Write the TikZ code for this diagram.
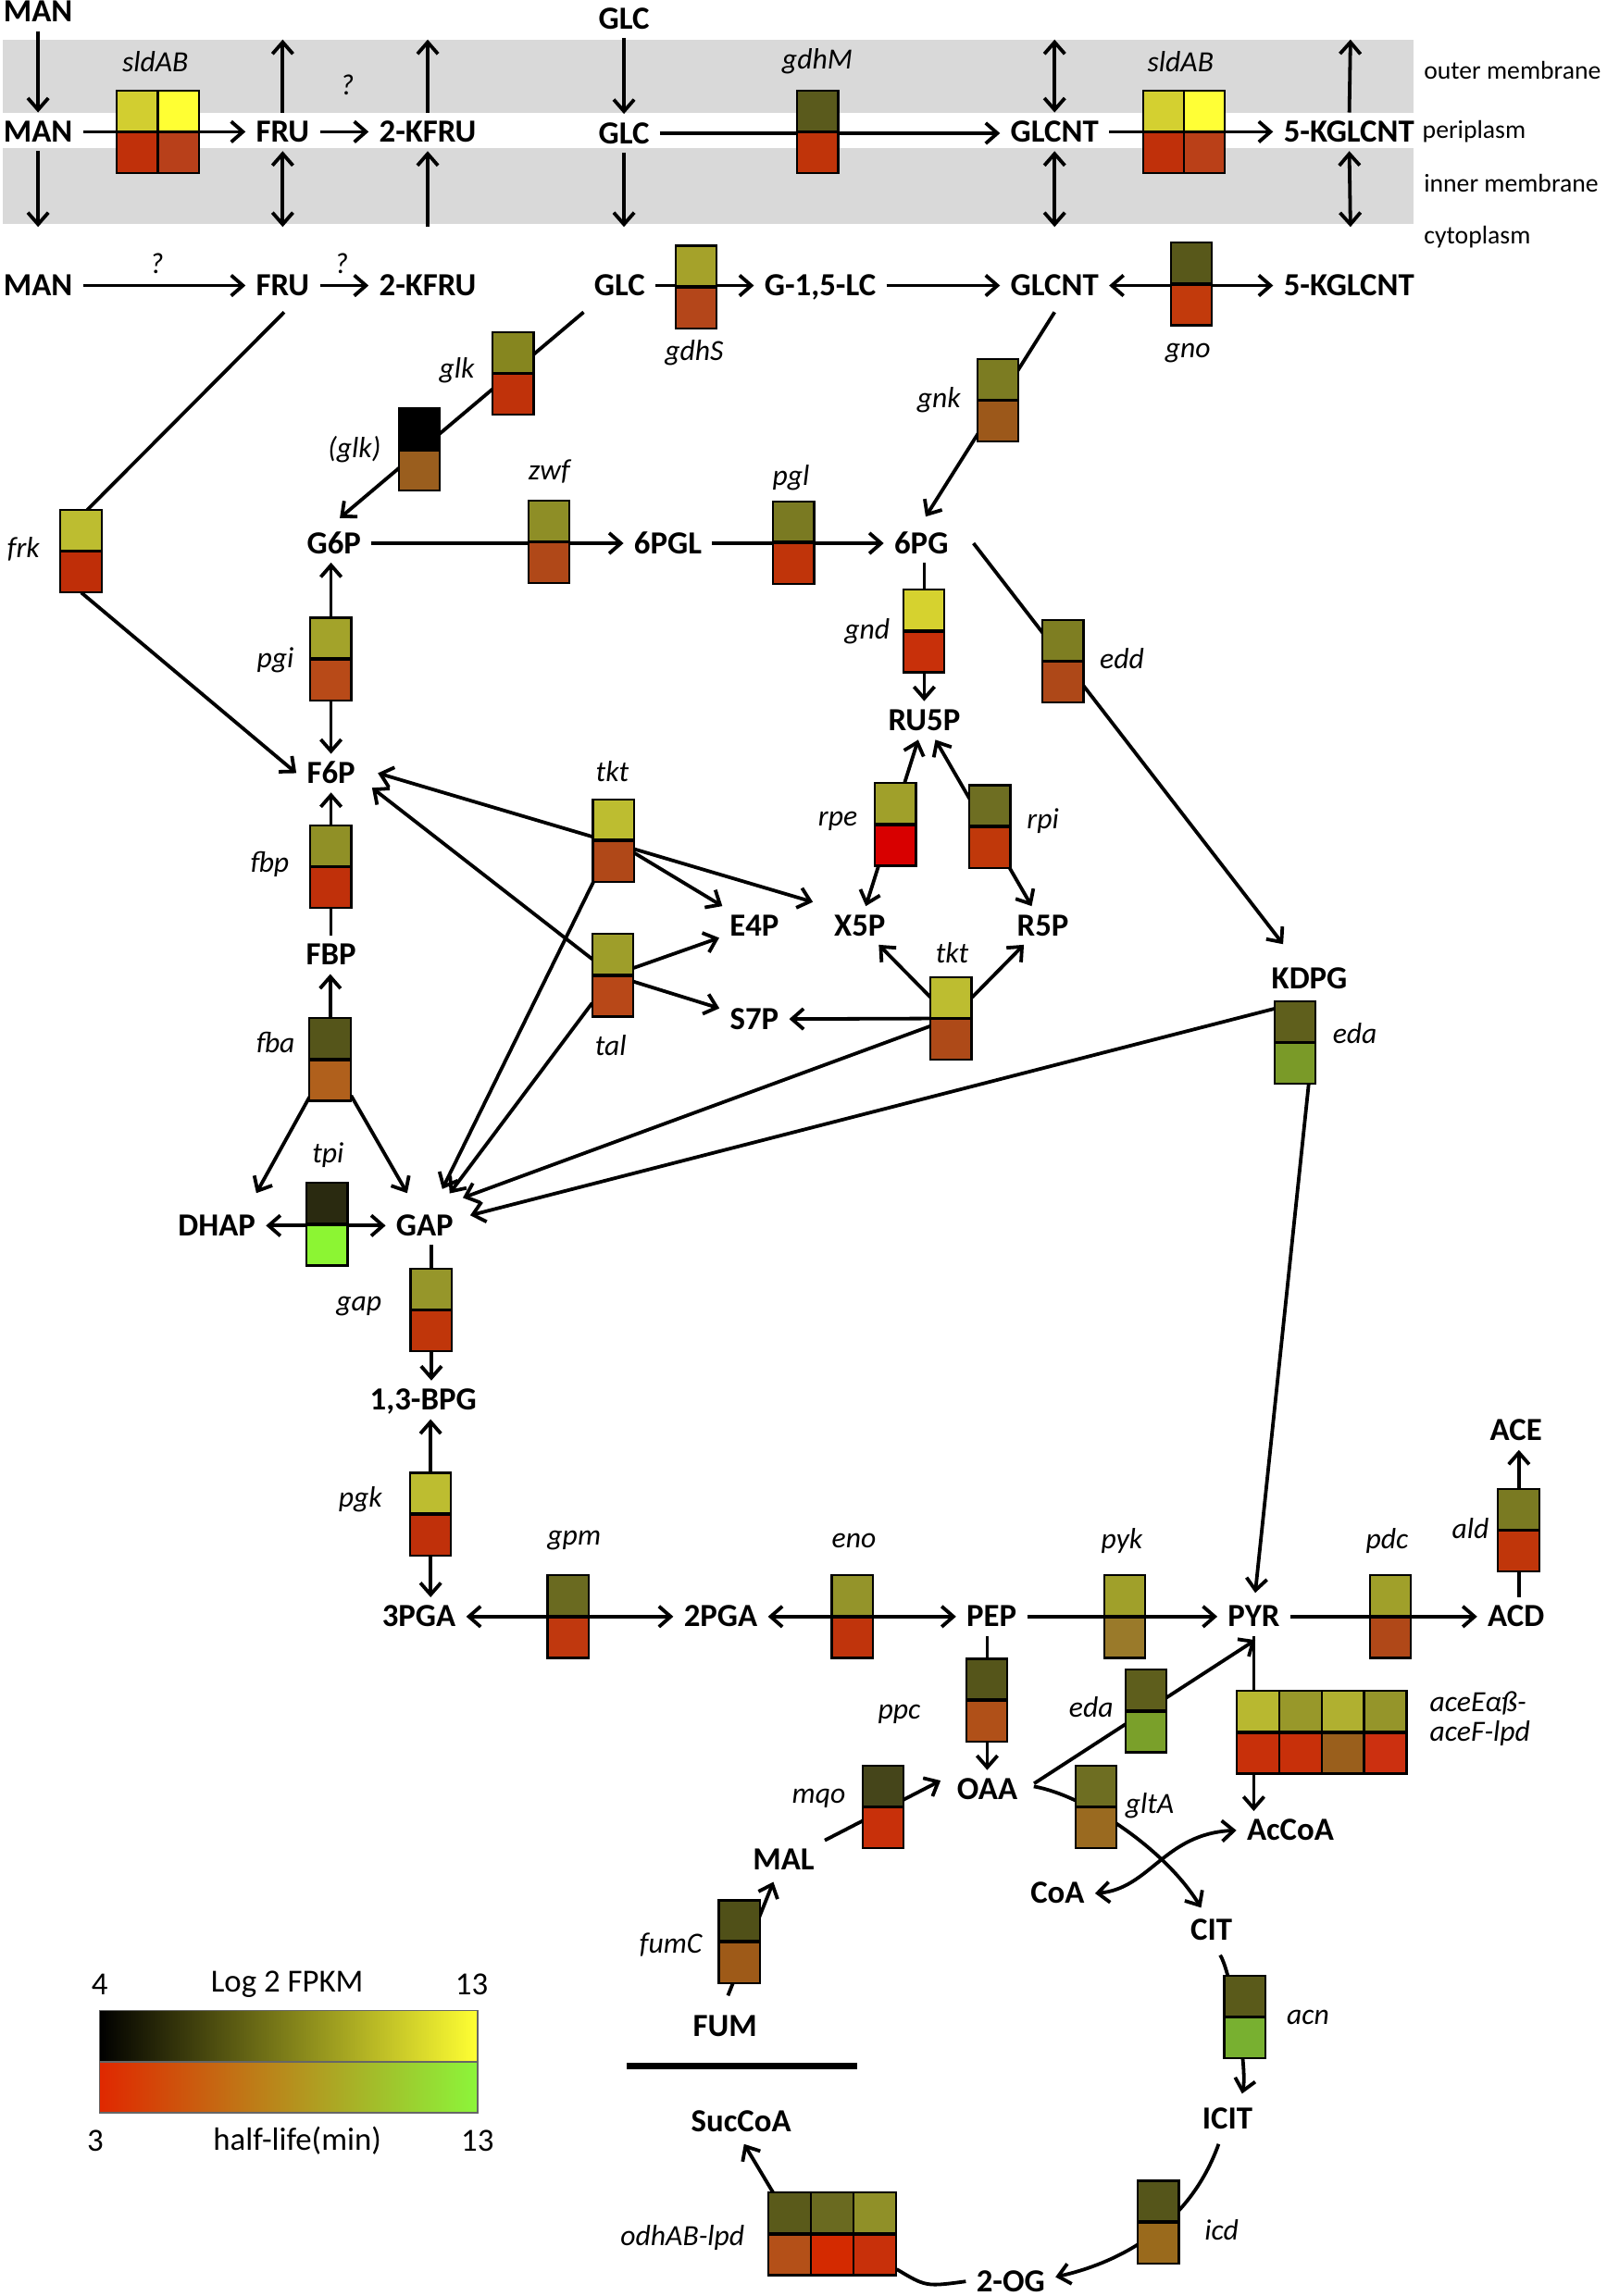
\documentclass[tikz,border=0pt]{standalone}
\usepackage{fontspec}
\setmainfont{Carlito}
\usetikzlibrary{arrows.meta,calc}
\pgfdeclarelayer{bg}
\pgfsetlayers{bg,main}
\newcommand{\hx}[2]{\definecolor{#1}{HTML}{#2}}
\hx{membr}{D9D9D9}
\hx{sAaT}{D2CE30}\hx{sAbT}{FFFF33}\hx{sAaB}{C0300A}\hx{sAbB}{B8401A}
\hx{gdhMT}{5A5A1C}\hx{gdhMB}{C0340A}
\hx{sBaT}{D4D030}\hx{sBbT}{FFFF36}\hx{sBaB}{C0300A}\hx{sBbB}{BA4018}
\hx{gdhST}{A5A22A}\hx{gdhSB}{B4461A}
\hx{gnoT}{58581A}\hx{gnoB}{C23A0C}
\hx{glkT}{86861F}\hx{glkB}{C0320A}
\hx{glkbT}{000000}\hx{glkbB}{9A5E1E}
\hx{gnkT}{7C7C22}\hx{gnkB}{9C581A}
\hx{frkT}{BDBD30}\hx{frkB}{BF2E08}
\hx{zwfT}{8E8E26}\hx{zwfB}{B04818}
\hx{pglT}{7A7A22}\hx{pglB}{C0340A}
\hx{gndT}{D6D22F}\hx{gndB}{C8300A}
\hx{eddT}{7E7E22}\hx{eddB}{AE4818}
\hx{pgiT}{A3A32A}\hx{pgiB}{B84A18}
\hx{fbpT}{909026}\hx{fbpB}{C0300A}
\hx{tktAT}{BDBD30}\hx{tktAB}{B04818}
\hx{talT}{9E9E2A}\hx{talB}{B84818}
\hx{rpeT}{A0A02A}\hx{rpeB}{D80000}
\hx{rpiT}{6E6E22}\hx{rpiB}{C0380A}
\hx{tktBT}{BDBD30}\hx{tktBB}{AE4A18}
\hx{fbaT}{55551A}\hx{fbaB}{B0601C}
\hx{tpiT}{2A2A10}\hx{tpiB}{8CF533}
\hx{gapT}{96962A}\hx{gapB}{C0360A}
\hx{edaAT}{5F5F1C}\hx{edaAB}{7A9A28}
\hx{pgkT}{BDBD30}\hx{pgkB}{C0300A}
\hx{gpmT}{6A6A20}\hx{gpmB}{C0380E}
\hx{enoT}{94942A}\hx{enoB}{C0340C}
\hx{pykT}{A0A02A}\hx{pykB}{9A7A2A}
\hx{pdcT}{A0A02A}\hx{pdcB}{B04818}
\hx{aldT}{7A7A22}\hx{aldB}{C0360A}
\hx{ppcT}{55551A}\hx{ppcB}{B05018}
\hx{edaBT}{5E5E1C}\hx{edaBB}{7AA02A}
\hx{aceaT}{B8B830}\hx{acebT}{98982A}\hx{acecT}{B0B030}\hx{acedT}{95952A}
\hx{aceaB}{C8300A}\hx{acebB}{C8300A}\hx{acecB}{9A5F1C}\hx{acedB}{CC3010}
\hx{gltAT}{6E6E22}\hx{gltAB}{9A6A20}
\hx{mqoT}{45451A}\hx{mqoB}{C8300A}
\hx{fumCT}{505018}\hx{fumCB}{9E5A18}
\hx{acnT}{5A5A1A}\hx{acnB}{78B030}
\hx{icdT}{55551A}\hx{icdB}{9A6A1C}
\hx{odhaT}{5A5A1A}\hx{odhbT}{6A6A20}\hx{odhcT}{909028}
\hx{odhaB}{B45018}\hx{odhbB}{D42A00}\hx{odhcB}{C8300A}
\hx{lgY}{FFFF33}\hx{lgR}{E02800}\hx{lgG}{8CF53A}
\tikzset{
  met/.style={font=\fontsize{22}{24}\selectfont\bfseries, inner xsep=7pt, inner ysep=6pt, text height=14pt, text depth=0pt},
  gl/.style={font=\fontsize{20}{22}\selectfont\itshape, inner sep=1pt},
  memlbl/.style={font=\fontsize{17.5}{19}\selectfont, anchor=west, inner sep=0pt},
  lgd/.style={font=\fontsize{22}{24}\selectfont, inner sep=0pt},
  genebox/.style={rectangle, minimum height=56pt, inner sep=0pt, draw=none},
  boxedge/.style={draw=black, line width=1.4pt},
  midline/.style={draw=black, line width=2.2pt},
  ln/.style={draw=black, line width=2.4pt},
  ar/.style={ln, -{Straight Barb[length=8pt,width=14pt]}},
  dar/.style={ln, {Straight Barb[length=8pt,width=14pt]}-{Straight Barb[length=8pt,width=14pt]}}
}
\newcommand{\gM}[5]{%
  \node[genebox, minimum width=#3*#4pt] (#1) at #2 {};
  \foreach \tc/\bc [count=\i from 0] in {#5}{%
    \fill[fill=\tc] ($(#1.north west)+(\i*#4,0)$) rectangle ($(#1.west)+(\i*#4+#4,0)$);
    \fill[fill=\bc] ($(#1.west)+(\i*#4,0)$) rectangle ($(#1.south west)+(\i*#4+#4,0)$);
    \draw[boxedge] ($(#1.north west)+(\i*#4,0)$) rectangle ($(#1.south west)+(\i*#4+#4,0)$);
  }%
  \draw[midline] (#1.west) -- (#1.east);
}
\begin{document}
\begin{tikzpicture}[x=1pt,y=-1pt]
\useasboundingbox (0,0) rectangle (1097,1568);
\begin{pgfonlayer}{bg}
\fill[membr] (2,27) rectangle (965,77);
\fill[membr] (2,101) rectangle (965,153);
\end{pgfonlayer}
% membrane labels
\node[memlbl] (Louter) at (972,48) {outer membrane};
\node[memlbl] (Lperi) at (971,90) {periplasm};
\node[memlbl] (Linner) at (972,125) {inner membrane};
\node[memlbl] (Lcyto) at (972,162) {cytoplasm};
% metabolites
\node[met] (MANo) at (26,8) {MAN};
\node[met] (GLCo) at (426,13) {GLC};
\node[met] (MANp) at (26,90) {MAN};
\node[met] (FRUp) at (193,90) {FRU};
\node[met] (KFRUp) at (292,90) {2-KFRU};
\node[met] (GLCp) at (426,91) {GLC};
\node[met] (GLCNTp) at (720,90) {GLCNT};
\node[met] (KGLCNTp) at (921,90) {5-KGLCNT};
\node[met] (MANc) at (26,195) {MAN};
\node[met] (FRUc) at (193,195) {FRU};
\node[met] (KFRUc) at (292,195) {2-KFRU};
\node[met] (GLCc) at (423,195) {GLC};
\node[met] (GLC15) at (560,195) {G-1,5-LC};
\node[met] (GLCNTc) at (720,195) {GLCNT};
\node[met] (KGLCNTc) at (921,195) {5-KGLCNT};
\node[met] (G6P) at (228,371) {G6P};
\node[met] (PGL6) at (456,371) {6PGL};
\node[met] (PG6) at (629,371) {6PG};
\node[met] (RU5P) at (631,492) {RU5P};
\node[met] (F6P) at (226,528) {F6P};
\node[met] (FBP) at (226,652) {FBP};
\node[met] (E4P) at (515,632) {E4P};
\node[met] (X5P) at (587,632) {X5P};
\node[met] (R5P) at (712,632) {R5P};
\node[met] (S7P) at (515,696) {S7P};
\node[met] (KDPG) at (894,668) {KDPG};
\node[met] (DHAP) at (148,837) {DHAP};
\node[met] (GAP) at (290,837) {GAP};
\node[met] (BPG) at (289,956) {1,3-BPG};
\node[met] (PGA3) at (286,1104) {3PGA};
\node[met] (PGA2) at (492,1104) {2PGA};
\node[met] (PEP) at (677,1104) {PEP};
\node[met] (PYR) at (856,1104) {PYR};
\node[met] (ACD) at (1035,1104) {ACD};
\node[met] (ACE) at (1035,977) {ACE};
\node[met] (OAA) at (674,1222) {OAA};
\node[met] (AcCoA) at (881,1250) {AcCoA};
\node[met] (CoA) at (722,1293) {CoA};
\node[met] (CIT) at (827,1318) {CIT};
\node[met] (MAL) at (535,1270) {MAL};
\node[met] (FUM) at (495,1384) {FUM};
\node[met] (SucCoA) at (506,1449) {SucCoA};
\node[met] (ICIT) at (838,1447) {ICIT};
\node[met] (OG2) at (690,1558) {2-OG};
% free ends
\coordinate (MANd) at (26,155);
\coordinate (FRUu) at (193,27);
\coordinate (FRUd) at (193,155);
\coordinate (KFRUu) at (292,27);
\coordinate (KFRUd) at (292,155);
\coordinate (GLCd) at (426,155);
\coordinate (GLCNTu) at (720,27);
\coordinate (GLCNTd) at (720,155);
\coordinate (KGu) at (922,27);
\coordinate (KGd) at (922,155);
% gene boxes
\gM{sldA}{(108,90)}{2}{28}{sAaT/sAaB,sAbT/sAbB}
\gM{gdhM}{(558.5,90)}{1}{28}{gdhMT/gdhMB}
\gM{sldB}{(808.5,90)}{2}{28}{sBaT/sBaB,sBbT/sBbB}
\gM{gdhS}{(475.5,196)}{1}{28}{gdhST/gdhSB}
\gM{gno}{(813.5,194)}{1}{28}{gnoT/gnoB}
\gM{glk}{(350.5,255)}{1}{28}{glkT/glkB}
\gM{glkb}{(286.5,307)}{1}{28}{glkbT/glkbB}
\gM{gnk}{(681.5,273.5)}{1}{28}{gnkT/gnkB}
\gM{frk}{(55.5,376.5)}{1}{28}{frkT/frkB}
\gM{zwf}{(375,370)}{1}{28}{zwfT/zwfB}
\gM{pgl}{(542,370.5)}{1}{28}{pglT/pglB}
\gM{gnd}{(631,431)}{1}{28}{gndT/gndB}
\gM{edd}{(726,451.5)}{1}{28}{eddT/eddB}
\gM{pgi}{(226,450)}{1}{28}{pgiT/pgiB}
\gM{fbp}{(226,592)}{1}{28}{fbpT/fbpB}
\gM{tktA}{(419,574)}{1}{28}{tktAT/tktAB}
\gM{tal}{(418.5,666)}{1}{28}{talT/talB}
\gM{rpe}{(611.5,563)}{1}{28}{rpeT/rpeB}
\gM{rpi}{(676,564.5)}{1}{28}{rpiT/rpiB}
\gM{tktB}{(649.5,695.5)}{1}{28}{tktBT/tktBB}
\gM{fba}{(225.5,723.5)}{1}{28}{fbaT/fbaB}
\gM{tpi}{(223.5,836)}{1}{28}{tpiT/tpiB}
\gM{gap}{(294.5,894.5)}{1}{28}{gapT/gapB}
\gM{edaA}{(884.5,712)}{1}{28}{edaAT/edaAB}
\gM{pgk}{(294,1034)}{1}{28}{pgkT/pgkB}
\gM{gpm}{(388,1104)}{1}{28}{gpmT/gpmB}
\gM{eno}{(582,1104)}{1}{28}{enoT/enoB}
\gM{pyk}{(768,1104)}{1}{28}{pykT/pykB}
\gM{pdc}{(949.5,1104)}{1}{28}{pdcT/pdcB}
\gM{ald}{(1037,1045)}{1}{28}{aldT/aldB}
\gM{ppc}{(674,1161)}{1}{28}{ppcT/ppcB}
\gM{edaB}{(782.5,1168.5)}{1}{28}{edaBT/edaBB}
\gM{ace}{(902.5,1183)}{4}{29}{aceaT/aceaB,acebT/acebB,acecT/acecB,acedT/acedB}
\gM{gltA}{(748.5,1234)}{1}{28}{gltAT/gltAB}
\gM{mqo}{(603,1234)}{1}{28}{mqoT/mqoB}
\gM{fumC}{(505,1326)}{1}{28}{fumCT/fumCB}
\gM{acn}{(850,1377.5)}{1}{28}{acnT/acnB}
\gM{icd}{(791,1517.5)}{1}{28}{icdT/icdB}
\gM{odh}{(568.5,1525.5)}{3}{29}{odhaT/odhaB,odhbT/odhbB,odhcT/odhcB}
% gene labels
\node[gl] (Lsld1) at (106,42) {sldAB};
\node[gl] (LgdhM) at (558,42) {gdhM};
\node[gl] (Lsld2) at (806,42) {sldAB};
\node[gl] (Lq1) at (237,58) {?};
\node[gl] (Lq2) at (107,180) {?};
\node[gl] (Lq3) at (233,180) {?};
\node[gl] (LgdhS) at (474,241) {gdhS};
\node[gl] (Lgno) at (811,241) {gno};
\node[gl] (Lglk) at (312,253) {glk};
\node[gl] (Lglkb) at (242,307) {(glk)};
\node[gl] (Lgnk) at (641,273) {gnk};
\node[gl] (Lfrk) at (16,375) {frk};
\node[gl] (Lzwf) at (375,322) {zwf};
\node[gl] (Lpgl) at (540,326) {pgl};
\node[gl] (Lgnd) at (592,431) {gnd};
\node[gl] (Ledd) at (766,450) {edd};
\node[gl] (Lpgi) at (188,451) {pgi};
\node[gl] (Lfbp) at (184,590) {fbp};
\node[gl] (LtktA) at (418,527) {tkt};
\node[gl] (Ltal) at (417,714) {tal};
\node[gl] (Lrpe) at (572,561) {rpe};
\node[gl] (Lrpi) at (712,561) {rpi};
\node[gl] (LtktB) at (650,651) {tkt};
\node[gl] (Lfba) at (188,712) {fba};
\node[gl] (Ltpi) at (224,789) {tpi};
\node[gl] (Lgap) at (245,892) {gap};
\node[gl] (LedaA) at (925,706) {eda};
\node[gl] (Lpgk) at (246,1024) {pgk};
\node[gl] (Lgpm) at (392,1052) {gpm};
\node[gl] (Leno) at (583,1052) {eno};
\node[gl] (Lpyk) at (766,1052) {pyk};
\node[gl] (Lpdc) at (947,1052) {pdc};
\node[gl] (Lald) at (1004,1044) {ald};
\node[gl] (Lppc) at (614,1171) {ppc};
\node[gl] (LedaB) at (745,1166) {eda};
\node[gl, anchor=west] (Lace1) at (975,1163) {aceEαß-};
\node[gl, anchor=west] (Lace2) at (975,1184) {aceF-lpd};
\node[gl] (LgltA) at (785,1233) {gltA};
\node[gl] (Lmqo) at (559,1228) {mqo};
\node[gl] (LfumC) at (458,1328) {fumC};
\node[gl] (Lacn) at (893,1378) {acn};
\node[gl] (Licd) at (834,1523) {icd};
\node[gl] (Lodh) at (466,1528) {odhAB-lpd};
% legend
\node[lgd] (Lg4) at (68,1355) {4};
\node[lgd] (Lglog) at (196,1355) {Log 2 FPKM};
\node[lgd] (Lg13a) at (322,1355) {13};
\shade[left color=black, right color=lgY] (68,1373) rectangle (326,1408);
\shade[left color=lgR, right color=lgG] (68,1408) rectangle (326,1443);
\draw[black!60, line width=1pt] (68,1373) rectangle (326,1443);
\draw[black!60, line width=1pt] (68,1408) -- (326,1408);
\node[lgd] (Lg3) at (65,1462) {3};
\node[lgd] (Lghl) at (203,1462) {half-life(min)};
\node[lgd] (Lg13b) at (326,1462) {13};
\draw[line width=4pt] (428,1411) -- (585,1411);
% connectors
\begin{pgfonlayer}{bg}
\draw[ar] (MANo) -- (MANp);
\draw[ar] (MANp) -- (MANd);
\draw[ar] (MANp) -- (FRUp);
\draw[ar] (FRUp) -- (FRUu);
\draw[dar] (FRUp) -- (FRUd);
\draw[ar] (FRUp) -- (KFRUp);
\draw[ar] (KFRUp) -- (KFRUu);
\draw[ar] (KFRUd) -- (KFRUp);
\draw[ar] (GLCo) -- (GLCp);
\draw[ar] (GLCp) -- (GLCd);
\draw[ar] (GLCp) -- (GLCp -| GLCNTp.west);
\draw[dar] (GLCNTp) -- (GLCNTu);
\draw[dar] (GLCNTp) -- (GLCNTd);
\draw[ar] (GLCNTp) -- (KGLCNTp);
\draw[ar] (KGLCNTp) -- (KGu);
\draw[dar] (KGLCNTp) -- (KGd);
\draw[ar] (MANc) -- (FRUc);
\draw[ar] (FRUc) -- (KFRUc);
\draw[ar] (GLCc) -- (GLC15);
\draw[ar] (GLC15) -- (GLCNTc);
\draw[dar] (GLCNTc) -- (KGLCNTc);
\draw[ln] ($(FRUc.south)+(1,5)$) -- ($(frk.north)+(4,0)$);
\draw[ar] (frk.south) -- (F6P.west);
\draw[ar] ($(GLCc.south west)+(0,5)$) -- ($(G6P.north)+(4,-4)$);
\draw[ar] ($(GLCNTc.south)+(0,5)$) -- ($(PG6.north)+(3,-5)$);
\draw[ar] (G6P) -- (PGL6);
\draw[ar] (PGL6) -- (PG6);
\draw[ar] (PG6.south -| gnd) -- (RU5P.north -| gnd);
\draw[ar] ($(PG6.east)+(10,0)$) -- ($(KDPG.north)+(-18,-10)$);
\draw[dar] (G6P.south -| pgi) -- (F6P.north -| pgi);
\draw[ar] (FBP.north -| fbp) -- (F6P.south -| fbp);
\draw[ar] (fba.north) -- (FBP.south -| fba);
\draw[ar] (fba) -- ($(DHAP.north)+(27,-9)$);
\draw[ar] (fba) -- ($(GAP.north)+(-12,-9)$);
\draw[dar] (DHAP) -- (GAP);
\draw[ar] (GAP.south -| gap) -- (BPG.north -| gap);
\draw[dar] (BPG.south -| pgk) -- (PGA3.north -| pgk);
\draw[dar] (PGA3) -- (PGA2);
\draw[dar] (PGA2) -- (PEP);
\draw[ar] (PEP) -- (PYR);
\draw[ar] (PYR) -- (ACD);
\draw[ar] (ACD.north -| ald) -- (ACE.south -| ald);
\draw[ar] ($(edaA.south)+(9,0)$) -- ($(PYR.north)+(1,-3)$);
\draw[ar] ($(edaA.north west)+(0,5)$) -- ($(GAP)+(31,-7)$);
\draw[ar] (tktB) -- ($(GAP)+(26,-19)$);
\draw[ar] (tktA) -- ($(GAP)+(12,-25)$);
\draw[ar] (tal) -- ($(GAP)+(17,-22)$);
\draw[ar] (tktB) -- (X5P);
\draw[ar] (tktB) -- (R5P);
\draw[ar] (tktB) -- (S7P);
\draw[dar] ($(F6P)+(32,0)$) -- ($(X5P)+(-32,-16)$);
\draw[ar] (tktA) -- (E4P);
\draw[ar] (tal) -- ($(F6P)+(28,10)$);
\draw[ar] (tal) -- (E4P);
\draw[ar] (tal) -- (S7P);
\draw[dar] (X5P) -- (RU5P);
\draw[dar] (R5P) -- (RU5P);
\draw[ar] (PEP.south -| ppc) -- (OAA.north -| ppc);
\draw[ar] ($(OAA)+(32,-4)$) -- ($(PYR)+(1,16)$);
\draw[ar] (PYR.south) -- (PYR.south |- AcCoA.north);
\draw[ar] (MAL.north east) -- ($(OAA.west)+(-4,-6)$);
\draw[ar] ($(FUM.north)+(2,-8)$) -- ($(MAL.south)+(-7,2)$);
\draw[ar] ($(CIT.south)+(6,4)$) .. controls ($(acn.north)+(-10,-4)$) and ($(acn.south)+(2,6)$) .. ($(ICIT.north)+(10,-4)$);
\draw[ar] ($(ICIT.south)+(-6,4)$) .. controls (812,1520) and (765,1545) .. ($(OG2.east)+(0,-3)$);
\draw[ln] ($(odh.south east)+(0,-4)$) .. controls ($(odh.south east)+(20,8)$) .. (OG2.west);
\draw[ar] ($(odh.north west)+(3,0)$) -- ($(SucCoA.south)+(2,2)$);
\draw[ar] ($(OAA.east)+(4,-2)$) .. controls (740,1226) and (795,1262) .. ($(CIT.north)+(-7,-2)$);
\draw[dar] (CoA.east) .. controls (785,1290) and (795,1252) .. (AcCoA.west);
\end{pgfonlayer}
\end{tikzpicture}
\end{document}
